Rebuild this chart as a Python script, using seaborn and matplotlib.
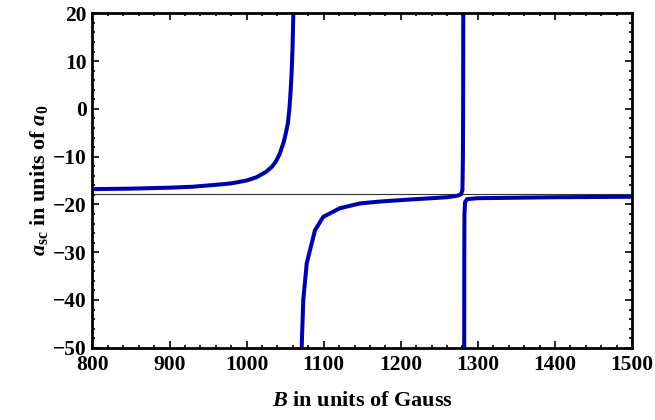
import numpy as np
import pandas as pd
import matplotlib
matplotlib.use("Agg")
import matplotlib.pyplot as plt
import seaborn as sns
from matplotlib.ticker import MultipleLocator

# values (B in Gauss, a_sc in units of a_0)
b_left = [800, 850, 900, 930, 960, 980, 1000, 1013, 1025, 1033, 1038, 1043, 1048,
          1051, 1053.5, 1055.5, 1057, 1058.5, 1059.6, 1060.6]
a_left = [-16.8, -16.7, -16.5, -16.3, -15.9, -15.6, -15.0, -14.3, -13.2, -12.1, -11.0, -9.4, -7.0,
          -5.0, -3.0, 0.0, 3.5, 8.0, 13.0, 20.0]

b_mid = [1071.4, 1073.5, 1078, 1088.7, 1099.5, 1121, 1147, 1173, 1210, 1240, 1260,
         1273, 1278, 1280, 1280.6, 1280.9, 1281.1]
a_mid = [-50.0, -40.0, -32.3, -25.4, -22.6, -20.8, -19.8, -19.4, -19.0, -18.7, -18.5,
         -18.2, -17.9, -17.0, -10.0, 0.0, 20.0]

b_right = [1282.3, 1282.4, 1282.6, 1283.5, 1286, 1300, 1350, 1400, 1450, 1500]
a_right = [-50.0, -30.0, -22.0, -19.5, -18.9, -18.7, -18.6, -18.5, -18.45, -18.4]

a_background = -17.8

sns.set_style("ticks")
plt.rcParams['font.family'] = ['Liberation Serif', 'DejaVu Serif']
plt.rcParams['font.weight'] = 'bold'
plt.rcParams['mathtext.fontset'] = 'custom'
plt.rcParams['mathtext.rm'] = 'Liberation Serif:bold'
plt.rcParams['mathtext.it'] = 'Liberation Serif:bold:italic'
plt.rcParams['mathtext.bf'] = 'Liberation Serif:bold'
plt.rcParams['axes.unicode_minus'] = True
for key in ['text.color', 'axes.labelcolor', 'xtick.color', 'ytick.color',
            'xtick.labelcolor', 'ytick.labelcolor']:
    plt.rcParams[key] = 'black'

fig = plt.figure(figsize=(6.55, 4.2), dpi=100)
ax = fig.add_axes([0.1412, 0.1721, 0.8237, 0.7962])

curve_color = '#0000a8'
ax.axhline(a_background, color='#333333', lw=0.8, zorder=1)
for b, a in [(b_left, a_left), (b_mid, a_mid), (b_right, a_right)]:
    df = pd.DataFrame({'B': b, 'a': a})
    sns.lineplot(data=df, x='B', y='a', color=curve_color, lw=2.9,
                 sort=False, estimator=None, ax=ax, zorder=2)

ax.set_xlim(800, 1500)
ax.set_ylim(-50, 20)
ax.xaxis.set_major_locator(MultipleLocator(100))
ax.xaxis.set_minor_locator(MultipleLocator(20))
ax.yaxis.set_major_locator(MultipleLocator(10))
ax.yaxis.set_minor_locator(MultipleLocator(2))
ax.tick_params(which='both', direction='in', top=True, right=True, width=1.2,
               color='black', labelcolor='black')
ax.tick_params(which='major', length=5, labelsize=15.5)
ax.tick_params(which='minor', length=2.5)
ax.tick_params(axis='x', pad=5)
ax.tick_params(axis='y', pad=4)
for lab in ax.get_xticklabels() + ax.get_yticklabels():
    lab.set_fontweight('bold')
for sp in ax.spines.values():
    sp.set_linewidth(2)
    sp.set_color('black')

ax.set_xlabel(r'$B$ in units of Gauss', fontsize=16, fontweight='bold', labelpad=12, color='black')
ax.set_ylabel(r'$a_{\mathrm{sc}}$ in units of $a_0$', fontsize=16, fontweight='bold', labelpad=2,
              color='black')

fig.savefig('out.png', dpi=100)
